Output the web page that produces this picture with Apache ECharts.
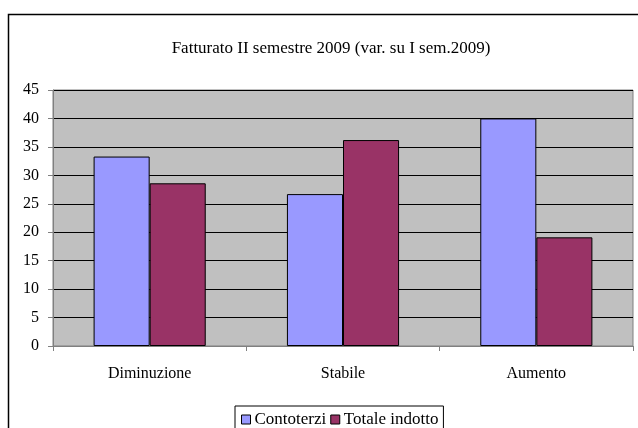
<!DOCTYPE html>
<html><head><meta charset="utf-8">
<script src="https://cdn.jsdelivr.net/npm/echarts@6/dist/echarts.min.js"></script>
<style>html,body{margin:0;padding:0;background:#fff}#c{width:638px;height:428px}</style>
</head><body><div id="c"></div>
<script>
const categories = ['Diminuzione', 'Stabile', 'Aumento'];
const contoterzi = [33.3, 26.7, 40.0];
const totaleIndotto = [28.6, 36.2, 19.1];
const yTicks = {min: 0, max: 45, interval: 5};
const titleText = 'Fatturato II semestre 2009 (var. su I sem.2009)';

const font = 'Liberation Serif, Times New Roman, serif';
const chart = echarts.init(document.getElementById('c'), null, {renderer: 'canvas'});
chart.setOption({
  animation: false,
  backgroundColor: '#fff',
  graphic: [{type: 'rect', shape: {x: 8.5, y: 14.5, width: 700, height: 500}, style: {fill: 'none', stroke: '#000', lineWidth: 1.5}, z: -1}],
  title: {text: titleText, left: 326, textAlign: 'center', top: 35,
    textStyle: {fontFamily: font, fontSize: 17, fontWeight: 'normal', color: '#000'}},
  grid: {left: 53, right: 5, top: 90, bottom: 82, show: true, backgroundColor: '#C0C0C0', borderColor: '#808080', borderWidth: 1},
  legend: {bottom: -14, left: 235, itemWidth: 9, itemHeight: 9, itemGap: 4, icon: 'rect',
    padding: [5, 5, 14, 6], borderColor: '#000', borderWidth: 1,
    textStyle: {fontFamily: font, fontSize: 17, color: '#000', padding: [0, 0, 0, -1]},
    itemStyle: {borderColor: '#000', borderWidth: 1},
    data: ['Contoterzi', 'Totale indotto']},
  xAxis: {type: 'category', data: categories,
    axisLine: {lineStyle: {color: '#808080'}},
    axisTick: {show: true, length: 5, lineStyle: {color: '#808080'}},
    axisLabel: {fontFamily: font, fontSize: 16, color: '#000', margin: 20}},
  yAxis: {type: 'value', min: yTicks.min, max: yTicks.max, interval: yTicks.interval,
    axisLine: {show: true, lineStyle: {color: '#808080'}},
    axisTick: {show: true, length: 5, lineStyle: {color: '#808080'}},
    splitLine: {lineStyle: {color: '#000', width: 1}},
    axisLabel: {fontFamily: font, fontSize: 16, color: '#000', margin: 14}},
  series: [
    {name: 'Contoterzi', type: 'bar', data: contoterzi, barGap: '0%', barCategoryGap: '42%',
      itemStyle: {color: '#9999FF', borderColor: '#000', borderWidth: 1}},
    {name: 'Totale indotto', type: 'bar', data: totaleIndotto,
      itemStyle: {color: '#993366', borderColor: '#000', borderWidth: 1}}
  ]
});
</script></body></html>
